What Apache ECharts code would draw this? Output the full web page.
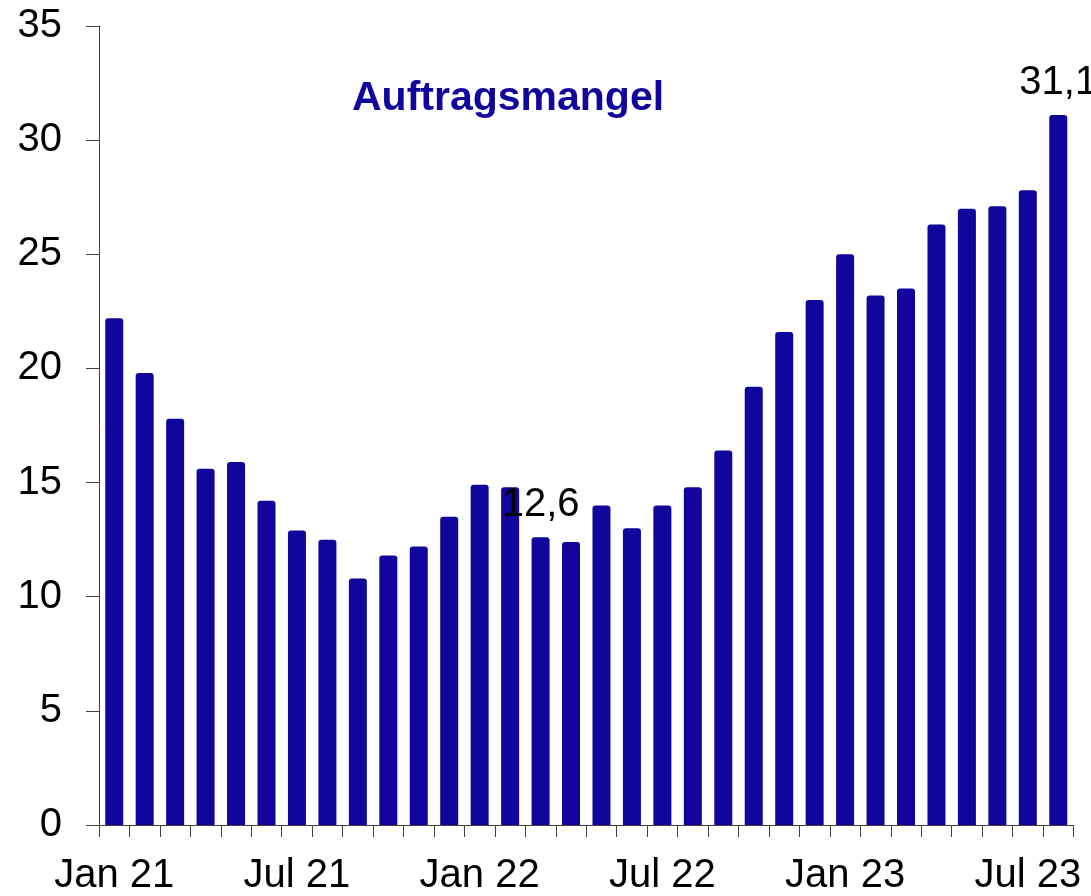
<!DOCTYPE html>
<html>
<head>
<meta charset="utf-8">
<script src="https://cdn.jsdelivr.net/npm/echarts@6/dist/echarts.min.js"></script>
<style>
  html, body { margin: 0; padding: 0; background: #fff; }
  #chart { width: 1091px; height: 896px; }
</style>
</head>
<body>
<div id="chart"></div>
<script>
const months = [
  "Jan 21", "Feb 21", "Mar 21", "Apr 21", "May 21", "Jun 21",
  "Jul 21", "Aug 21", "Sep 21", "Oct 21", "Nov 21", "Dec 21",
  "Jan 22", "Feb 22", "Mar 22", "Apr 22", "May 22", "Jun 22",
  "Jul 22", "Aug 22", "Sep 22", "Oct 22", "Nov 22", "Dec 22",
  "Jan 23", "Feb 23", "Mar 23", "Apr 23", "May 23", "Jun 23",
  "Jul 23", "Aug 23"
];
const auftragsmangel = [
  22.2, 19.8, 17.8, 15.6, 15.9, 14.2, 12.9, 12.5, 10.8, 11.8, 12.2, 13.5,
  14.9, 14.8, 12.6, 12.4, 14.0, 13.0, 14.0, 14.8, 16.4, 19.2, 21.6, 23.0,
  25.0, 23.2, 23.5, 26.3, 27.0, 27.1, 27.8, 31.1
];
const labelledMonths = ["Mar 22", "Aug 23"];

const chart = echarts.init(document.getElementById("chart"));
const font = "'Liberation Sans', Arial, sans-serif";
const barColor = "#10069c";

const seriesData = auftragsmangel.map((v, i) => {
  if (!labelledMonths.includes(months[i])) return v;
  return {
    value: v,
    label: {
      show: true,
      position: "top",
      distance: 12,
      fontFamily: font,
      fontSize: 40,
      color: "#000",
      formatter: (p) => String(p.value).replace(".", ",")
    }
  };
});

chart.setOption({
  animation: false,
  title: {
    text: "Auftragsmangel",
    left: 347,
    top: 73,
    textStyle: { fontFamily: font, fontSize: 41, fontWeight: "bold", color: barColor }
  },
  grid: { left: 99, right: 17.5, top: 26, bottom: 71 },
  xAxis: {
    type: "category",
    data: months,
    axisLine: { lineStyle: { color: "#404040", width: 1 } },
    axisTick: { show: true, interval: 0, length: 12, lineStyle: { color: "#404040" } },
    axisLabel: {
      interval: 5,
      margin: 31,
      fontFamily: font,
      fontSize: 40,
      color: "#000"
    }
  },
  yAxis: {
    type: "value",
    min: 0,
    max: 35,
    interval: 5,
    splitLine: { show: false },
    axisLine: { show: true, lineStyle: { color: "#404040", width: 1 } },
    axisTick: { show: true, length: 13, lineStyle: { color: "#404040" } },
    axisLabel: { margin: 37, fontFamily: font, fontSize: 40, color: "#000" }
  },
  series: [{
    type: "bar",
    data: seriesData,
    barWidth: 18,
    itemStyle: { color: barColor, borderRadius: [3, 3, 0, 0] }
  }]
});
</script>
</body>
</html>
